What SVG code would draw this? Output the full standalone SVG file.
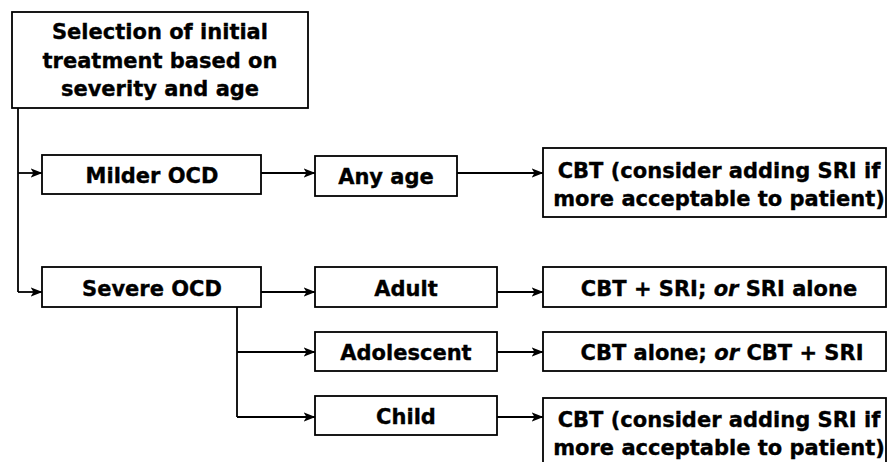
<svg xmlns="http://www.w3.org/2000/svg" width="887" height="462" viewBox="0 0 887 462">
  <defs>
    <marker id="arrow" viewBox="0 0 12 12" refX="11.5" refY="6" markerWidth="12" markerHeight="12" markerUnits="userSpaceOnUse" orient="auto">
      <path d="M0,1.2 L12,6 L0,10.8 L3,6 Z" fill="#000"/>
    </marker>
    <style>
      .box { fill: #fff; stroke: #000; stroke-width: 1.8; }
      .lbl { font-family: "DejaVu Sans", Verdana, sans-serif; font-weight: bold; font-size: 21px; fill: #000; stroke: #000; stroke-width: 0.35; text-anchor: middle; }
      .wire { fill: none; stroke: #000; stroke-width: 1.8; }
      .to { marker-end: url(#arrow); }
    </style>
  </defs>
  <rect width="887" height="462" fill="#fff"/>

  <!-- connectors -->
  <g id="connectors">
    <path class="wire" d="M18,108 V292"/>
    <path class="wire to" d="M18,173 H42"/>
    <path class="wire to" d="M18,292 H42"/>
    <path class="wire to" d="M261,173 H315"/>
    <path class="wire to" d="M457,173 H543"/>
    <path class="wire to" d="M261,292 H315"/>
    <path class="wire to" d="M497,292 H543"/>
    <path class="wire" d="M237,307 V417"/>
    <path class="wire to" d="M237,352 H315"/>
    <path class="wire to" d="M237,417 H315"/>
    <path class="wire to" d="M497,352 H543"/>
    <path class="wire to" d="M497,417 H543"/>
  </g>

  <g id="start">
    <rect class="box" x="12" y="12" width="296" height="96"/>
    <text class="lbl" x="160" y="39">Selection of initial</text>
    <text class="lbl" x="160" y="68">treatment based on</text>
    <text class="lbl" x="160" y="96">severity and age</text>
  </g>

  <g id="milder">
    <rect class="box" x="42" y="155" width="219" height="39"/>
    <text class="lbl" x="152" y="183">Milder OCD</text>
  </g>

  <g id="severe">
    <rect class="box" x="42" y="267" width="219" height="40"/>
    <text class="lbl" x="152" y="296">Severe OCD</text>
  </g>

  <g id="any-age">
    <rect class="box" x="315" y="156" width="142" height="40"/>
    <text class="lbl" x="386" y="184">Any age</text>
  </g>

  <g id="adult">
    <rect class="box" x="315" y="267" width="182" height="40"/>
    <text class="lbl" x="406" y="296">Adult</text>
  </g>

  <g id="adolescent">
    <rect class="box" x="315" y="332" width="182" height="39"/>
    <text class="lbl" x="406" y="360">Adolescent</text>
  </g>

  <g id="child">
    <rect class="box" x="315" y="396" width="182" height="39"/>
    <text class="lbl" x="406" y="424">Child</text>
  </g>

  <g id="milder-any">
    <rect class="box" x="543" y="148" width="343" height="69"/>
    <text class="lbl" x="719" y="178">CBT (consider adding SRI if</text>
    <text class="lbl" x="719" y="206">more acceptable to patient)</text>
  </g>

  <g id="severe-adult">
    <rect class="box" x="543" y="267" width="343" height="40"/>
    <text class="lbl" x="719" y="296">CBT + SRI; <tspan font-style="italic">or</tspan> SRI alone</text>
  </g>

  <g id="severe-adolescent">
    <rect class="box" x="543" y="332" width="343" height="39"/>
    <text class="lbl" x="722" y="360">CBT alone; <tspan font-style="italic">or</tspan> CBT + SRI</text>
  </g>

  <g id="severe-child">
    <rect class="box" x="543" y="398" width="343" height="72"/>
    <text class="lbl" x="719" y="427">CBT (consider adding SRI if</text>
    <text class="lbl" x="719" y="455">more acceptable to patient)</text>
  </g>
</svg>
